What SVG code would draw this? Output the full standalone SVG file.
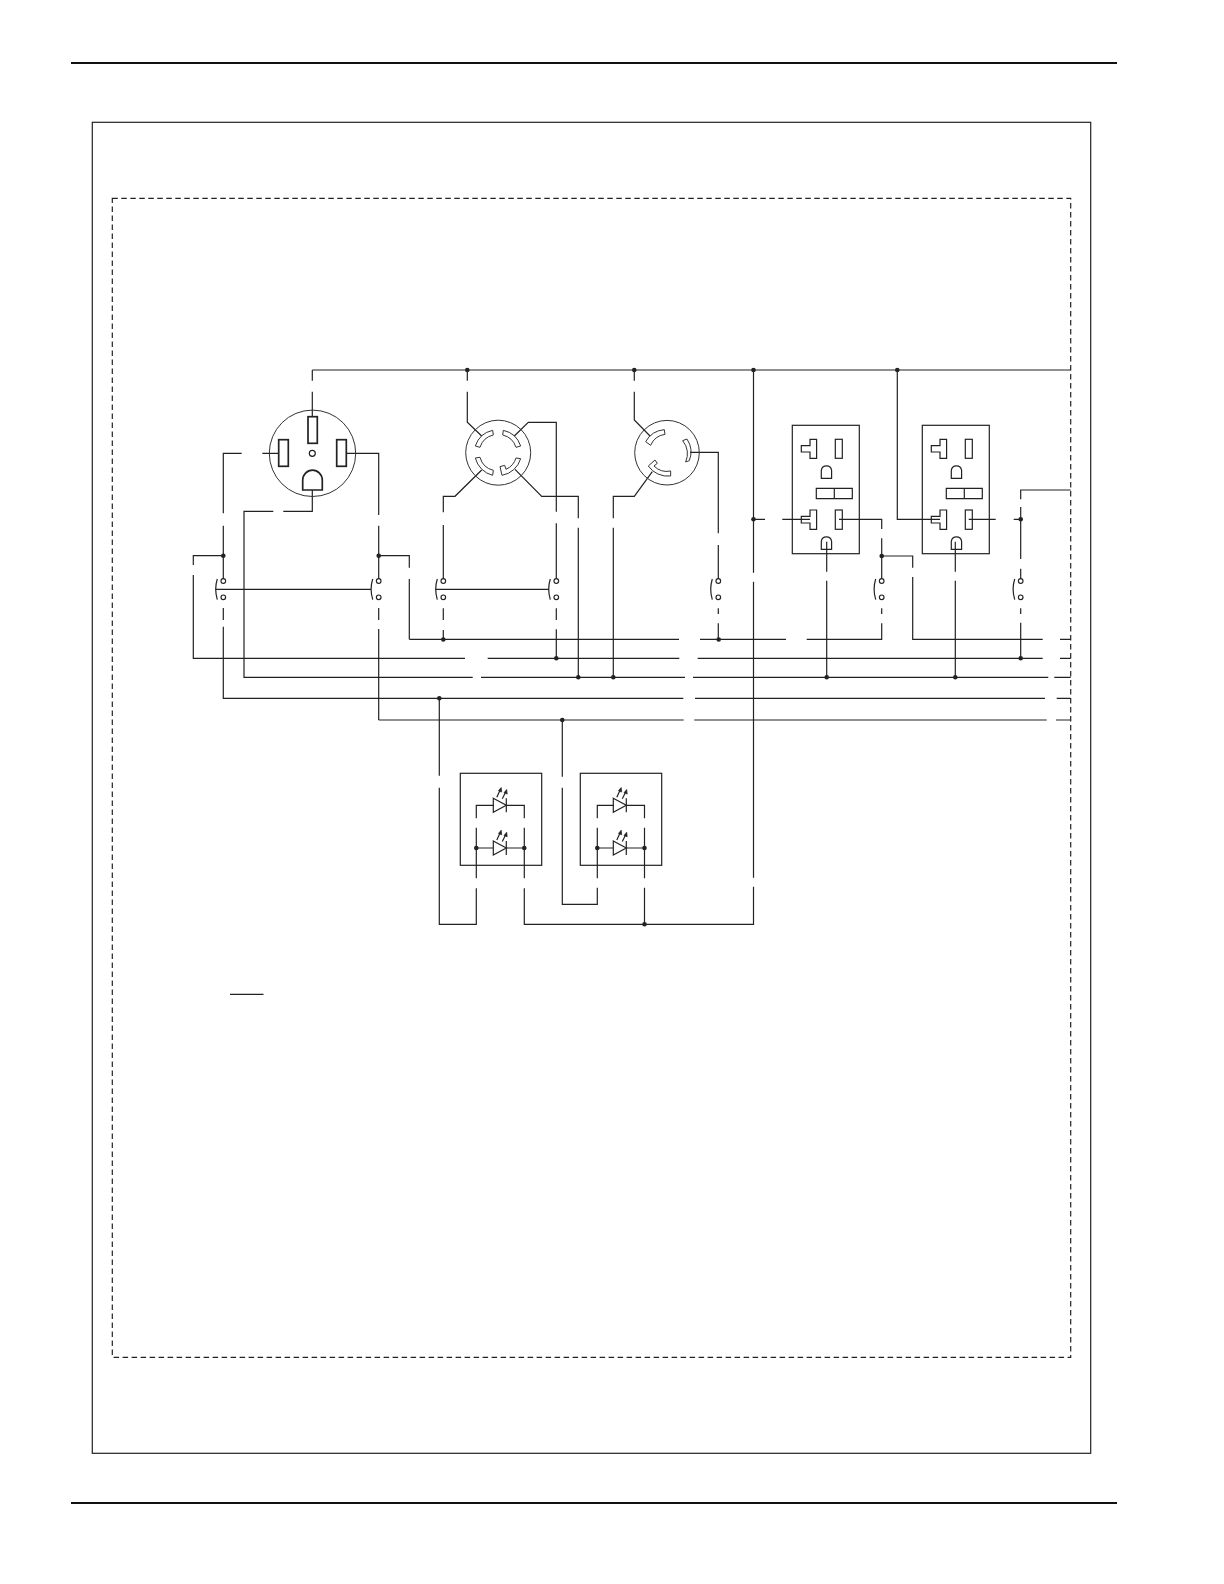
<svg xmlns="http://www.w3.org/2000/svg" xmlns:xlink="http://www.w3.org/1999/xlink" width="1224" height="1584" viewBox="0 0 1224 1584">
<style>
.l,.w path,.n{fill:none;stroke:#222;stroke-width:1.2}
.p{fill:none;stroke:#222;stroke-width:1.7}
.t{fill:none;stroke:#333;stroke-width:1}
.b{fill:none;stroke:#111;stroke-width:2}
.d{fill:#222;stroke:none}
.a{fill:#222;stroke:#222;stroke-width:.7}
</style>
<defs>
<g id="sw">
<circle class="n" cx="0" cy="0" r="2.3"/>
<circle class="n" cx="0" cy="16.3" r="2.3"/>
<path class="n" d="M-6 -2Q-9.2 8.2 -6 18.6"/>
</g>
<g id="recp">
<path class="n" d="M9 20.3H17.7V14H24.3V33H17.7V26.7H9Z"/>
<rect class="n" x="43" y="14" width="7" height="19"/>
<path class="n" d="M29 53V45A5.2 5.2 0 0 1 39.3 45V53Z"/>
<path class="n" d="M24 63H60V73.3H24ZM42 63V73.3"/>
<path class="n" d="M9 91H17.7V84.7H24.3V104H17.7V97.7H9Z"/>
<rect class="n" x="43" y="84.7" width="7" height="19.3"/>
<path class="n" d="M29 124V116A5.2 5.2 0 0 1 39.3 116V124Z"/>
</g>
<g id="led">
<path class="n" d="M0 -7L13 0L0 7Z"/>
<path class="n" d="M13 -7V7"/>
<path class="n" d="M3.5 -8L6.5 -14.5M9 -6.5L12 -12.5"/>
<path class="a" d="M7.9 -17.8L8.4 -13.2L5.2 -14.6ZM13.4 -15.8L13.9 -11.2L10.7 -12.6Z"/>
</g>
</defs>

<g id="page">
<path class="b" d="M71 63H1117M71 1503H1117"/>
<rect class="n" x="92.3" y="122.3" width="998.4" height="1331"/>
<rect class="n" x="112.3" y="198.3" width="958.4" height="1159" stroke-dasharray="5.5 3.5"/>
<path class="n" d="M230 994.3H263.5"/>
</g>

<g id="connectors" class="w">
<path d="M312.3 370H1070.7M312.3 370V380.7M312.3 391.7V417"/>
<path d="M262.3 453.3H279M241.7 453.3H223.3V513.3M223.3 525.7V578.7M223.3 555.7H193.3V565M193.3 575V658.3H465M223.3 608V620M223.3 626.7V698.3H683.3"/>
<path d="M487.7 658.3H679.3M697.7 658.3H1042.7M1060 658.3H1070.7"/>
<path d="M312.3 490V511.3H283.3M273.3 511.3H244V677.3H472.7M481 677.3H685M693 677.3H1048.3M1054.3 677.3H1070.7"/>
<path d="M695 698.3H1045M1056.7 698.3H1070.7"/>
<path d="M378.7 720H683.7M694.3 720H1046.7M1056 720H1070.7"/>
<path d="M409.3 639.3H679M700 639.3H786M806.7 639.3H881.7V623.3M1060 639.3H1070.7"/>
<path d="M346.3 453.3H378.7V515M378.7 525.7V578.7M378.7 555.7H409.3V567.7M409.3 579V639.3M378.7 608V620M378.7 629V720"/>
<path d="M215.7 589.3H371M435.7 589.3H549"/>
<path d="M467.3 370V380.7M467.3 391.7V422.3L481.7 436M514.3 436L528.3 422.3H556.3V511.7M556.3 523.3V578.7M556.3 608.3V620M556.3 629.3V658.3"/>
<path d="M481.7 470L455 496.3H443.3V512.3M443.3 525V578.7M443.3 608.3V620M443.3 630V639.3"/>
<path d="M515 469.3L541.7 496.3H578.3V518.3M578.3 527.7V677.3"/>
<path d="M634.3 370V380.7M634.3 391.7V420L650 436M690 452.3H718.3V533.3M718.3 545V578.7M718.3 608.3V614M718.3 623.3V639.3"/>
<path d="M652.3 471.7L634.3 496.3H613.3V518.3M613.3 527.7V677.3"/>
<path d="M439.3 698.3V775.7M439.3 787.7V924.3H476.3V888.3M476.3 878.3V827.7"/>
<path d="M524.3 878.3V827.7M524.3 888.3V924.3H753.5V886.7M753.5 877.7V581.7M753.5 572.7V370"/>
<path d="M562.3 720V776.7M562.3 787.7V904.3H597.3V887.7M597.3 878.3V827.7M644.5 878.3V827.7M644.5 887.7V924.3"/>
<path d="M753.5 519.3H765M782.3 519.3H810M839 519.3H881.7V529M881.7 538.3V578.7M881.7 556H912.7V567.7M912.7 577V639.3H1042.7M881.7 608.3V614"/>
<path d="M826.7 541.7V571.7M826.7 580.7V677.3"/>
<path d="M897.3 370V519.3H940M968.7 519.3H995.7M1013.7 519.3H1023M1070.7 490H1020.7V499.3M1020.7 507V559M1020.7 568.7V578.7M1020.7 608.3V614M1020.7 622.7V658.3"/>
<path d="M955.3 541.7V571.7M955.3 580.7V677.3"/>
<g class="d">
<circle cx="467.3" cy="370" r="2.3"/><circle cx="634.3" cy="370" r="2.3"/><circle cx="753.5" cy="370" r="2.3"/><circle cx="897.3" cy="370" r="2.3"/>
<circle cx="223.3" cy="555.7" r="2.3"/><circle cx="378.7" cy="555.7" r="2.3"/><circle cx="881.7" cy="556" r="2.3"/>
<circle cx="753.5" cy="519.3" r="2.3"/><circle cx="1020.7" cy="519.3" r="2.3"/>
<circle cx="443.3" cy="639.5" r="2.3"/><circle cx="718.7" cy="639.5" r="2.3"/>
<circle cx="556.3" cy="658.3" r="2.3"/><circle cx="1020.7" cy="658.3" r="2.3"/>
<circle cx="578.3" cy="677.3" r="2.3"/><circle cx="613.3" cy="677.3" r="2.3"/><circle cx="826.7" cy="677.3" r="2.3"/><circle cx="955.3" cy="677.3" r="2.3"/>
<circle cx="439.3" cy="698.3" r="2.3"/><circle cx="562.3" cy="720" r="2.3"/><circle cx="644.5" cy="924.3" r="2.3"/>
</g>
</g>

<g id="receptacle-50a">
<circle class="t" cx="312.5" cy="453.3" r="43.2"/>
<rect class="p" x="308" y="416.7" width="9.3" height="26.6"/>
<rect class="p" x="278.7" y="439.7" width="9.6" height="26.6"/>
<rect class="p" x="336.7" y="439.7" width="9.6" height="26.6"/>
<circle class="n" cx="312.3" cy="453.3" r="3"/>
<path class="p" d="M302.7 490V480A9.8 9.8 0 0 1 322.3 480V490Z"/>
</g>

<g id="receptacle-twistlock-4">
<circle class="t" cx="498.2" cy="452.7" r="32.5"/>
<g transform="translate(420 390) scale(.3333)" style="fill:none;stroke:#333;stroke-width:3">
<path d="M218 121L220 135A55 55 0 0 0 180 172L166 168A71 71 0 0 1 218 121Z"/>
<path d="M250 121L248 135A55 55 0 0 1 288 172L302 168A71 71 0 0 0 250 121Z"/>
<path d="M166 204L180 202A55 55 0 0 0 220 241L218 256A71 71 0 0 1 166 204Z"/>
<path d="M302 206L288 204A55 55 0 0 1 258 238L254 226L240 230L246 256A71 71 0 0 0 302 206Z"/>
</g>
</g>

<g id="receptacle-twistlock-3">
<circle class="t" cx="667" cy="452.7" r="32.3"/>
<g transform="translate(420 390) scale(.3333)" style="fill:none;stroke:#333;stroke-width:3">
<path d="M733 119L735 133A55 55 0 0 0 692 166L677 155A71 71 0 0 1 733 119Z"/>
<path d="M788 152L801 147A71 71 0 0 1 808 212L797 216A60 60 0 0 0 788 152Z"/>
<path d="M685 228L705 210L712 220L702 228A55 55 0 0 0 752 243L752 258A71 71 0 0 1 685 228Z"/>
</g>
</g>

<g id="gfci-1">
<rect class="n" x="792.3" y="425.3" width="67" height="128.4"/>
<use xlink:href="#recp" href="#recp" x="792.3" y="425.3"/>
</g>
<g id="gfci-2">
<rect class="n" x="922.3" y="425.3" width="67" height="128.4"/>
<use xlink:href="#recp" href="#recp" x="922.3" y="425.3"/>
</g>

<g id="breaker-1"><use xlink:href="#sw" href="#sw" x="223.3" y="581"/></g>
<g id="breaker-2"><use xlink:href="#sw" href="#sw" x="378.7" y="581"/></g>
<g id="breaker-3"><use xlink:href="#sw" href="#sw" x="443.3" y="581"/></g>
<g id="breaker-4"><use xlink:href="#sw" href="#sw" x="556.3" y="581"/></g>
<g id="breaker-5"><use xlink:href="#sw" href="#sw" x="718.3" y="581"/></g>
<g id="breaker-6"><use xlink:href="#sw" href="#sw" x="881.7" y="581"/></g>
<g id="breaker-7"><use xlink:href="#sw" href="#sw" x="1020.7" y="581"/></g>

<g id="led-box-1">
<rect class="n" x="460.3" y="773.3" width="81.4" height="92"/>
<path class="n" d="M476.3 818.3V805.3H493.3M506.3 805.3H524.3V818.3M476.3 848H493.3M506.3 848H524.3"/>
<use xlink:href="#led" href="#led" x="493.3" y="805.3"/>
<use xlink:href="#led" href="#led" x="493.3" y="848"/>
<circle class="d" cx="476.3" cy="848" r="2.3"/><circle class="d" cx="524.3" cy="848" r="2.3"/>
</g>
<g id="led-box-2">
<rect class="n" x="580.3" y="773.3" width="81.4" height="92"/>
<path class="n" d="M597.3 818.3V805.3H613.3M626.3 805.3H644.5V818.3M597.3 848H613.3M626.3 848H644.5"/>
<use xlink:href="#led" href="#led" x="613.3" y="805.3"/>
<use xlink:href="#led" href="#led" x="613.3" y="848"/>
<circle class="d" cx="597.3" cy="848" r="2.3"/><circle class="d" cx="644.5" cy="848" r="2.3"/>
</g>
</svg>
